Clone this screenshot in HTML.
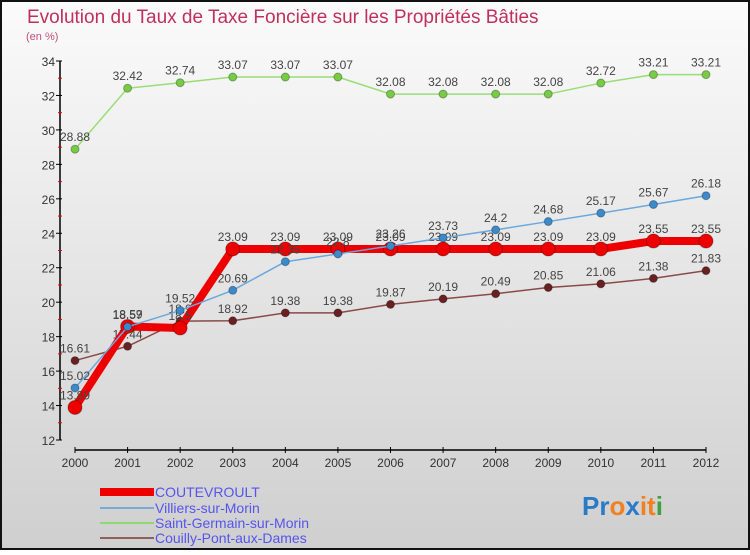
<!DOCTYPE html>
<html><head><meta charset="utf-8"><style>
body{margin:0}
svg text{font-family:"Liberation Sans",sans-serif}
</style></head><body>
<svg id="c" width="750" height="550" xmlns="http://www.w3.org/2000/svg">
<defs><linearGradient id="bg" x1="0" y1="0" x2="0" y2="1"><stop offset="0" stop-color="#fbfbfb"/><stop offset="1" stop-color="#cfcfcf"/></linearGradient></defs>
<rect x="1" y="1" width="748" height="548" fill="url(#bg)" stroke="#111" stroke-width="2"/>
<text x="27" y="23" font-size="19" fill="#c0305a">Evolution du Taux de Taxe Foncière sur les Propriétés Bâties</text>
<text x="26" y="40" font-size="11" fill="#c0507a">(en %)</text>
<g id="axes"></g><g id="series"></g>
<g>
<rect x="100" y="488" width="54" height="8" fill="#e00"/>
<text x="155" y="497" font-size="14" fill="#5555ee">COUTEVROULT</text>
<rect x="100" y="507" width="54" height="2" fill="#7aaad0"/>
<text x="155" y="513" font-size="14" fill="#5555ee">Villiers-sur-Morin</text>
<rect x="100" y="522" width="54" height="2" fill="#90d870"/>
<text x="155" y="528" font-size="14" fill="#5555ee">Saint-Germain-sur-Morin</text>
<rect x="100" y="537" width="54" height="2" fill="#906060"/>
<text x="155" y="543" font-size="14" fill="#5555ee">Couilly-Pont-aux-Dames</text>
</g>
<text x="582" y="515" font-size="26" font-weight="bold"><tspan fill="#2a7ac8">Pr</tspan><tspan fill="#f08020">o</tspan><tspan fill="#2a7ac8">x</tspan><tspan fill="#f08020">it</tspan><tspan fill="#40a040">i</tspan></text>
</svg>
<script>
const years=[2000,2001,2002,2003,2004,2005,2006,2007,2008,2009,2010,2011,2012];
const yTicks=[12,14,16,18,20,22,24,26,28,30,32,34];
const coutevroult=[13.89,18.59,18.5,23.09,23.09,23.09,23.09,23.09,23.09,23.09,23.09,23.55,23.55];
const villiers=[15.02,18.57,19.52,20.69,22.35,22.8,23.26,23.73,24.2,24.68,25.17,25.67,26.18];
const saintGermain=[28.88,32.42,32.74,33.07,33.07,33.07,32.08,32.08,32.08,32.08,32.72,33.21,33.21];
const couilly=[16.61,17.44,18.9,18.92,19.38,19.38,19.87,20.19,20.49,20.85,21.06,21.38,21.83];
const NS="http://www.w3.org/2000/svg";
const x=i=>75+i*(706-75)/(years.length-1);
const y=v=>440-(v-12)*(440-61)/22;
function mk(t,a,p){const e=document.createElementNS(NS,t);for(const k in a)e.setAttribute(k,a[k]);p.appendChild(e);return e;}
const ax=document.getElementById('axes');
let l=mk('line',{x1:60,y1:61,x2:60,y2:440,stroke:'#000','stroke-width':1.5},ax);


l=mk('line',{x1:75,y1:450,x2:706,y2:450,stroke:'#000','stroke-width':1.5},ax);


yTicks.forEach((v,i)=>{
 mk('line',{x1:56,y1:y(v),x2:62,y2:y(v),stroke:'#000'},ax);
 if(i<yTicks.length-1)mk('line',{x1:58,y1:y(v+1),x2:62,y2:y(v+1),stroke:'#e00'},ax);
 const t=mk('text',{x:55,y:y(v)+5,'font-size':12,'text-anchor':'end',fill:'#333'},ax);t.textContent=v;
 
 
});
years.forEach((yr,i)=>{
 mk('line',{x1:x(i),y1:447,x2:x(i),y2:453,stroke:'#000'},ax);
 const t=mk('text',{x:x(i),y:467,'font-size':12,'text-anchor':'middle',fill:'#333'},ax);t.textContent=yr;
 
 
});
const sg=document.getElementById('series');
function draw(data,name,color,w,r,dot){
 const g=mk('g',{},sg);
 
 
 const p=mk('polyline',{points:data.map((v,i)=>x(i)+','+y(v)).join(' '),fill:'none',stroke:color,'stroke-width':w,'stroke-linejoin':'round'},g);
 
 
 data.forEach((v,i)=>{
  const c=mk('circle',{cx:x(i),cy:y(v),r:r,fill:dot,stroke:'rgba(0,0,0,0.3)'},g);
  
  
  const t=mk('text',{x:x(i),y:y(v)-8,'font-size':12,'text-anchor':'middle',fill:'#444'},g);t.textContent=String(v).replace('.','.');
  
  
 });
}
draw(couilly,'couilly','#8a4a4a',1.5,4,'#6a2020');
draw(saintGermain,'saint-germain','#99dd77',1.5,4,'#77cc44');
draw(coutevroult,'coutevroult','#ee0000',8,7,'#ee0000');
draw(villiers,'villiers','#6aa8dd',1.5,4,'#3a8acc');
</script>
</body></html>
